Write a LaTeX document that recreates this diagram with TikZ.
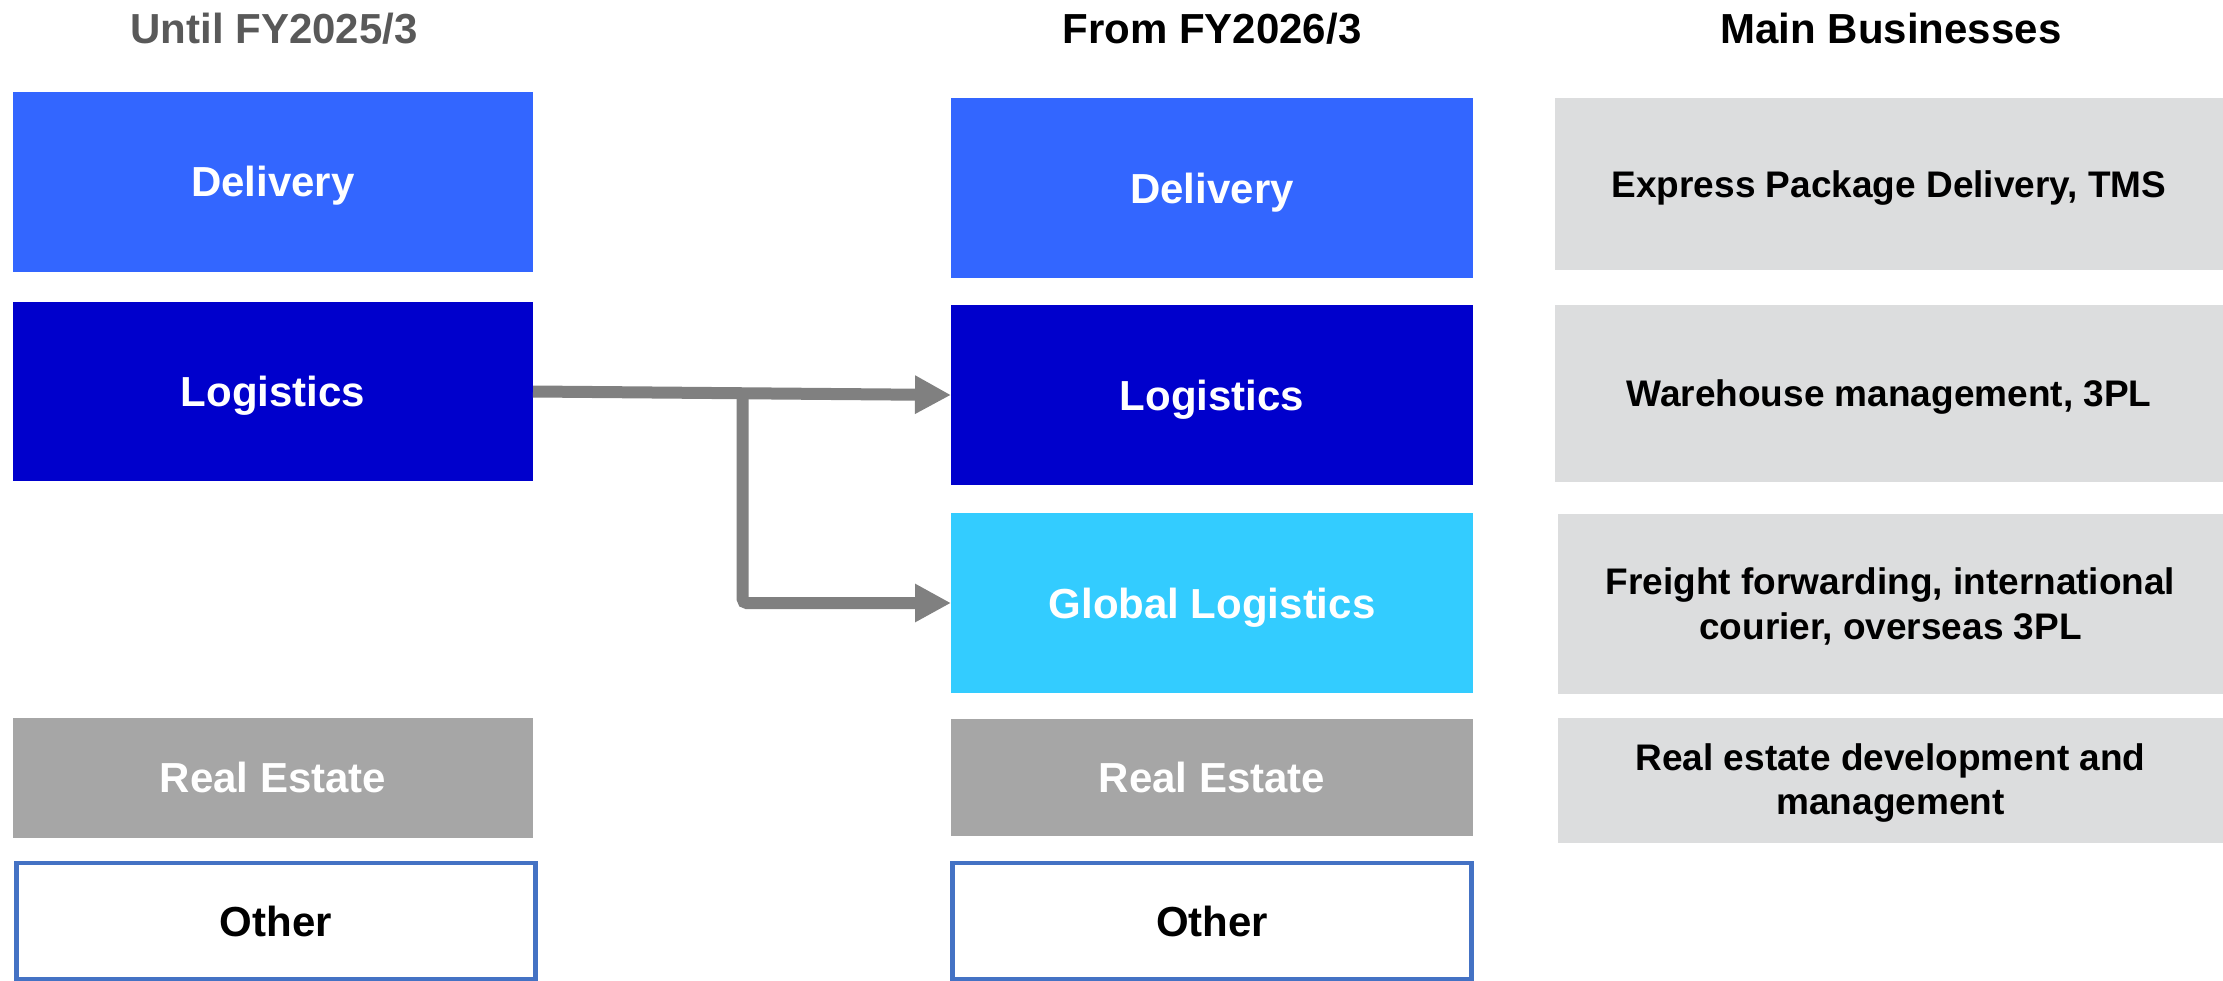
\documentclass[tikz,border=0pt]{standalone}
\usepackage{fontspec}
\setmainfont{Liberation Sans}
\usetikzlibrary{arrows.meta}
\def\PX{0.75pt}
\definecolor{cdel}{HTML}{3366FF}
\definecolor{clog}{HTML}{0000CC}
\definecolor{cglob}{HTML}{33CCFF}
\definecolor{cre}{HTML}{A6A6A6}
\definecolor{cbiz}{HTML}{DCDDDE}
\definecolor{cother}{HTML}{4472C4}
\definecolor{carrow}{HTML}{808080}
\definecolor{ctitlegray}{HTML}{595959}
\tikzset{
  seg/.style={inner sep=0pt, outer sep=0pt, text=white, align=center,
    text height=22.55pt, text depth=0pt,
    font=\fontsize{31.5}{37}\selectfont\bfseries},
  deliv/.style={seg, fill=cdel},
  logi/.style={seg, fill=clog},
  globl/.style={seg, fill=cglob},
  reale/.style={seg, fill=cre},
  otherbox/.style={seg, draw=cother, line width=4.5*\PX, fill=white, text=black},
  bizbase/.style={inner sep=0pt, outer sep=0pt, fill=cbiz, text=black, align=center,
    font=\fontsize{27.75}{33.5}\selectfont\bfseries},
  bizone/.style={bizbase, text height=19.87pt, text depth=0pt},
  biztwo/.style={bizbase},
  coltitle/.style={inner sep=0pt, anchor=base, font=\fontsize{31.5}{37}\selectfont\bfseries},
  conn/.style={draw=carrow, line width=12*\PX,
    -{Triangle[length=36*\PX, width=36*\PX]}},
}
\begin{document}
\begin{tikzpicture}[x=0.75pt,y=-0.75pt]
\useasboundingbox (0,0) rectangle (2223,981);
% titles
\node[coltitle, text=ctitlegray] (t1) at (274,44) {Until FY2025/3};
\node[coltitle] (t2) at (1212,44) {From FY2026/3};
\node[coltitle] (t3) at (1891,44) {Main Businesses};
% left column
\node[deliv, minimum width=520.2*\PX, minimum height=179.5*\PX] (Ldel) at (272.9,181.75) {Delivery};
\node[logi, minimum width=520.2*\PX, minimum height=179*\PX] (Llog) at (272.9,391.5) {Logistics};
\node[reale, minimum width=520.2*\PX, minimum height=119.5*\PX] (Lre) at (272.9,777.75) {Real Estate};
\node[otherbox, minimum width=519*\PX, minimum height=116*\PX] (Loth) at (276,921) {Other};
% middle column
\node[deliv, minimum width=522*\PX, minimum height=180*\PX] (Mdel) at (1212,188) {Delivery};
\node[logi, minimum width=522*\PX, minimum height=180*\PX] (Mlog) at (1212,395) {Logistics};
\node[globl, minimum width=522*\PX, minimum height=180*\PX] (Mglob) at (1212,603) {Global Logistics};
\node[reale, minimum width=522*\PX, minimum height=117*\PX] (Mre) at (1212,777.5) {Real Estate};
\node[otherbox, minimum width=519*\PX, minimum height=116*\PX] (Moth) at (1212,921) {Other};
% right column
\node[bizone, minimum width=668*\PX, minimum height=172*\PX] (R1) at (1889,184) {Express Package Delivery, TMS};
\node[bizone, minimum width=668*\PX, minimum height=177*\PX] (R2) at (1889,393.5) {Warehouse management, 3PL};
\node[biztwo, minimum width=665*\PX, minimum height=180*\PX] (R3) at (1890.5,603.7) {};
\node[biztwo, minimum width=665*\PX, minimum height=124.7*\PX] (R4) at (1890.5,780.3) {};
\node[biztwo, fill=none] (R3t) at ([yshift=-2.1pt]R3.center) {Freight forwarding, international\\courier, overseas 3PL};
\node[biztwo, fill=none] (R4t) at ([yshift=-2.1pt]R4.center) {Real estate development and\\management};
% connectors
\coordinate (j) at (742.7,392);
\draw[conn] (Llog.east) -- (Mlog.west);
\draw[conn, rounded corners=3pt] (j) |- (Mglob.west);
\end{tikzpicture}
\end{document}
